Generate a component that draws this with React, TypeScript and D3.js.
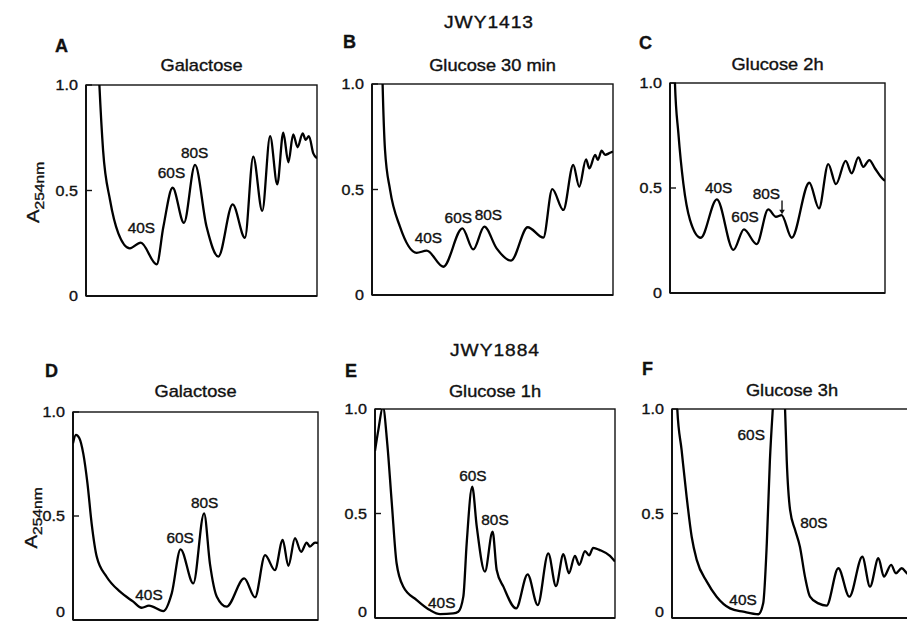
import * as d3 from 'd3';

// traces: [position across gradient (% of panel width), A254]
const traceA: [number, number][] = [
  [5.0, 1.2], [5.8, 1.0], [7.4, 0.69], [10.4, 0.455], [14.0, 0.297], [19.0, 0.226],
  [23.7, 0.253], [30.6, 0.15], [33.5, 0.328], [37.5, 0.513], [42.4, 0.347], [47.2, 0.621],
  [52.2, 0.328], [57.3, 0.187], [63.5, 0.434], [68.8, 0.276], [72.4, 0.66], [76.3, 0.403],
  [79.7, 0.758], [82.8, 0.529], [85.4, 0.774], [87.6, 0.634], [89.7, 0.766], [91.6, 0.705],
  [93.8, 0.771], [95.1, 0.74], [96.5, 0.758], [98.4, 0.676], [100, 0.653],
];
const traceB: [number, number][] = [
  [4.0, 1.2], [4.4, 1.0], [5.4, 0.687], [7.5, 0.498], [11.6, 0.324], [18.5, 0.2],
  [22.7, 0.21], [29.6, 0.134], [37.5, 0.316], [42.0, 0.216], [46.6, 0.324], [51.7, 0.221],
  [57.7, 0.163], [64.6, 0.321], [71.1, 0.272], [74.8, 0.502], [79.4, 0.403], [83.5, 0.616],
  [86.0, 0.513], [88.8, 0.643], [90.2, 0.6], [92.6, 0.664], [93.7, 0.64], [95.3, 0.684],
  [96.7, 0.664], [98.8, 0.674], [100, 0.68],
];
const traceC: [number, number][] = [
  [1.9, 1.2], [2.3, 1.0], [3.9, 0.76], [6.2, 0.522], [9.3, 0.348], [14.3, 0.263],
  [21.8, 0.446], [29.5, 0.205], [34.4, 0.303], [40.3, 0.233], [45.7, 0.398], [49.3, 0.363],
  [51.9, 0.371], [56.6, 0.263], [64.8, 0.525], [69.3, 0.403], [73.6, 0.614], [77.2, 0.518],
  [81.7, 0.629], [84.5, 0.57], [87.6, 0.646], [89.9, 0.601], [92.7, 0.633], [95.3, 0.594],
  [99.5, 0.538], [100, 0.535],
];
const traceD: [number, number][] = [
  [0, 0.85], [1.2, 0.89], [2.6, 0.874], [4.2, 0.8], [5.9, 0.657], [7.6, 0.465], [9.7, 0.304],
  [13.7, 0.208], [19.2, 0.136], [24.6, 0.088], [28.0, 0.059], [31.0, 0.069], [36.9, 0.043],
  [40.3, 0.128], [43.9, 0.34], [49.1, 0.176], [53.5, 0.513], [55.9, 0.27], [58.7, 0.112],
  [62.7, 0.064], [69.9, 0.2], [74.3, 0.109], [78.4, 0.312], [82.4, 0.24], [85.6, 0.385],
  [87.9, 0.26], [90.6, 0.393], [93.1, 0.328], [95.4, 0.372], [96.7, 0.353], [98.8, 0.372],
  [100, 0.37],
];
const traceE: [number, number][] = [
  [0, 0.8], [1.4, 0.9], [3.3, 1.01], [5.1, 0.836], [7.0, 0.549], [9.0, 0.262], [11.8, 0.15],
  [17.4, 0.086], [22.9, 0.038], [27.1, 0.019], [32.6, 0.022], [34.7, 0.03], [36.8, 0.102],
  [38.2, 0.357], [40.5, 0.628], [42.4, 0.437], [45.8, 0.222], [49.0, 0.413], [50.7, 0.23],
  [53.5, 0.15], [58.8, 0.046], [63.6, 0.209], [67.8, 0.062], [72.2, 0.309], [75.4, 0.153],
  [78.5, 0.305], [80.8, 0.214], [83.3, 0.297], [85.1, 0.254], [87.5, 0.32], [89.2, 0.3],
  [90.9, 0.336], [93.7, 0.325], [97.9, 0.297], [100, 0.27],
];
const traceF: [number, number][] = [
  [1.6, 1.25], [2.2, 1.0], [4.0, 0.804], [6.1, 0.58], [8.2, 0.389], [10.3, 0.278],
  [14.5, 0.174], [18.6, 0.102], [24.2, 0.046], [29.7, 0.03], [36.0, 0.018], [38.0, 0.07],
  [39.5, 0.357], [40.8, 0.756], [42.0, 1.0], [44.5, 1.35], [47.1, 1.0], [47.8, 0.756],
  [49.2, 0.517], [51.3, 0.421], [53.3, 0.341], [55.4, 0.198], [57.5, 0.102], [61.0, 0.07],
  [64.4, 0.059], [69.3, 0.238], [73.9, 0.102], [79.3, 0.293], [82.5, 0.15], [86.0, 0.286],
  [88.3, 0.198], [91.3, 0.254], [93.3, 0.214], [95.7, 0.238], [97.9, 0.214], [100, 0.2],
];

// peak annotations (label anchor in data units)
const peaksA = [{ name: '40S', x: 24, y: 0.3 }, { name: '60S', x: 37, y: 0.56 }, { name: '80S', x: 47, y: 0.654 }];
const peaksB = [{ name: '40S', x: 23.4, y: 0.245 }, { name: '60S', x: 35.8, y: 0.343 }, { name: '80S', x: 48.3, y: 0.355 }];
const peaksC = [{ name: '40S', x: 22.6, y: 0.475 }, { name: '60S', x: 34.9, y: 0.34 }, { name: '80S', x: 44.8, y: 0.446 }];
const peaksD = [{ name: '40S', x: 31, y: 0.096 }, { name: '60S', x: 43.7, y: 0.369 }, { name: '80S', x: 53.7, y: 0.537 }];
const peaksE = [{ name: '40S', x: 27.8, y: 0.05 }, { name: '60S', x: 40.8, y: 0.655 }, { name: '80S', x: 50, y: 0.445 }];
const peaksF = [{ name: '40S', x: 29.6, y: 0.062 }, { name: '60S', x: 33, y: 0.852 }, { name: '80S', x: 59.1, y: 0.429 }];
const arrowC = { x: 52.1, from: 0.44, to: 0.375 };

const yTicks = [0, 0.5, 1];
const yTickLabels = ['0', '0.5', '1.0'];
const strains = ['JWY1413', 'JWY1884'];

const FONT = '"Liberation Sans", Arial, Helvetica, sans-serif';
const INK = '#111';

const panels = [
  { id: 'A', title: 'Galactose', trace: traceA, peaks: peaksA, box: [86, 317, 85, 296], yLabel: 39, letter: [55, 52], titleY: 71 },
  { id: 'B', title: 'Glucose 30 min', trace: traceB, peaks: peaksB, box: [372, 613, 84, 295], yLabel: 0, letter: [343, 48], titleY: 71 },
  { id: 'C', title: 'Glucose 2h', trace: traceC, peaks: peaksC, box: [670, 885, 83, 293], yLabel: 0, letter: [639, 49], titleY: 70 },
  { id: 'D', title: 'Galactose', trace: traceD, peaks: peaksD, box: [73, 318, 412, 620], yLabel: 37, letter: [45, 377], titleY: 397 },
  { id: 'E', title: 'Glucose 1h', trace: traceE, peaks: peaksE, box: [375, 615, 409, 618], yLabel: 0, letter: [345, 377], titleY: 397 },
  { id: 'F', title: 'Glucose 3h', trace: traceF, peaks: peaksF, box: [672, 912, 409, 618], yLabel: 0, letter: [642, 375], titleY: 396 },
];

function Panel({ p }: { p: (typeof panels)[number] }) {
  const [x0, x1, yTop, yBot] = p.box;
  const x = d3.scaleLinear().domain([0, 100]).range([x0, x1]);
  const y = d3.scaleLinear().domain([0, 1]).range([yBot, yTop]);
  const line = d3
    .line<[number, number]>()
    .x((d) => x(d[0]))
    .y((d) => y(d[1]))
    .curve(d3.curveMonotoneX);
  const clipId = `clip-${p.id}`;
  const cx = (x0 + x1) / 2;
  const ink = { fill: INK, stroke: INK, strokeWidth: 0.35 };

  return (
    <g>
      <clipPath id={clipId}>
        <rect x={x0} y={yTop} width={x1 - x0} height={yBot - yTop} />
      </clipPath>

      {/* frame */}
      <rect x={x0} y={yTop} width={x1 - x0} height={yBot - yTop} fill="none" stroke={INK} strokeWidth={1.4} />
      <line x1={x0} x2={x0} y1={yTop} y2={yBot} stroke={INK} strokeWidth={2} />
      <line x1={x0} x2={x1} y1={yBot} y2={yBot} stroke={INK} strokeWidth={2} />

      {/* y ticks */}
      {yTicks.map((t, i) => (
        <g key={t}>
          <line x1={x0} x2={x0 + 6} y1={y(t)} y2={y(t)} stroke={INK} strokeWidth={1.4} />
          <text
            transform={`translate(${x0 - 8},${Math.min(y(t) + 5, 617)}) scale(1.15,1)`}
            textAnchor="end"
            fontSize={14}
            {...ink}
          >
            {yTickLabels[i]}
          </text>
        </g>
      ))}

      <path d={line(p.trace) ?? ''} fill="none" stroke="#000" strokeWidth={2.3} clipPath={`url(#${clipId})`} />

      {p.peaks.map((pk) => (
        <text
          key={pk.name}
          transform={`translate(${x(pk.x)},${y(pk.y)}) scale(1.1,1)`}
          textAnchor="middle"
          fontSize={14}
          {...ink}
        >
          {pk.name}
        </text>
      ))}

      {p.id === 'C' && (
        <g>
          <line x1={x(arrowC.x)} x2={x(arrowC.x)} y1={y(arrowC.from)} y2={y(arrowC.to) - 3} stroke={INK} strokeWidth={1.4} />
          <path
            d={`M${x(arrowC.x) - 2.8},${y(arrowC.to) - 4.5} L${x(arrowC.x) + 2.8},${y(arrowC.to) - 4.5} L${x(arrowC.x)},${y(arrowC.to)} Z`}
            fill={INK}
          />
        </g>
      )}

      <text
        transform={`translate(${cx},${p.titleY}) scale(1.14,1)`}
        textAnchor="middle"
        fontSize={16}
        {...ink}
      >
        {p.title}
      </text>
      <text x={p.letter[0]} y={p.letter[1]} fontSize={18} fontWeight="bold" {...ink}>
        {p.id}
      </text>

      {p.yLabel > 0 && (
        <text
          transform={`translate(${p.yLabel},${(yTop + yBot) / 2 + 2}) rotate(-90) scale(1.2,1)`}
          textAnchor="middle"
          fontSize={17}
          {...ink}
        >
          A
          <tspan fontSize={13} dy={5}>
            254nm
          </tspan>
        </text>
      )}
    </g>
  );
}

export default function App() {
  return (
    <div style={{ position: 'absolute', left: 0, top: 0, background: '#fff' }}>
      <svg width={907} height={622} style={{ display: 'block', fontFamily: FONT }}>
        <rect width={907} height={622} fill="#fff" />
        <text transform="translate(489,28) scale(1.2,1)" textAnchor="middle" fontSize={16} letterSpacing={0.8} fill={INK} stroke={INK} strokeWidth={0.35}>
          {strains[0]}
        </text>
        <text transform="translate(495,356) scale(1.2,1)" textAnchor="middle" fontSize={16} letterSpacing={0.8} fill={INK} stroke={INK} strokeWidth={0.35}>
          {strains[1]}
        </text>
        {panels.map((p) => (
          <Panel key={p.id} p={p} />
        ))}
      </svg>
    </div>
  );
}
